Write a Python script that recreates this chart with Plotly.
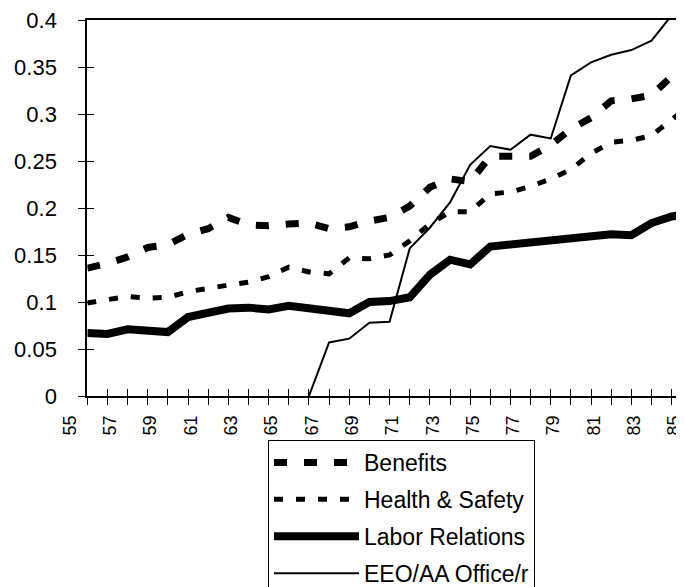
import plotly.graph_objects as go

years = list(range(55, 86))
label_years = list(range(55, 86, 2))
label_text = [str(y) for y in label_years]

benefits = [0.136, 0.141, 0.148, 0.158, 0.161, 0.172, 0.178, 0.190, 0.182, 0.181,
            0.183, 0.184, 0.178, 0.180, 0.186, 0.190, 0.202, 0.222, 0.231, 0.228,
            0.255, 0.255, 0.255, 0.267, 0.284, 0.296, 0.314, 0.316, 0.320, 0.340, 0.345]
health_safety = [0.099, 0.103, 0.106, 0.104, 0.105, 0.111, 0.115, 0.118, 0.121, 0.127,
                 0.137, 0.132, 0.130, 0.147, 0.146, 0.150, 0.165, 0.183, 0.196, 0.196,
                 0.215, 0.217, 0.223, 0.231, 0.241, 0.258, 0.270, 0.272, 0.277, 0.294, 0.311]
labor_relations = [0.067, 0.066, 0.071, 0.0695, 0.068, 0.084, 0.088, 0.093, 0.094, 0.092,
                   0.096, 0.093, 0.090, 0.088, 0.100, 0.101, 0.105, 0.129, 0.145, 0.140,
                   0.159, 0.161, 0.163, 0.167, 0.167, 0.169, 0.172, 0.171, 0.184, 0.191, 0.194]
eeo_aa = [None, None, None, None, None, None, None, None, None, None,
          None, 0.0, 0.057, 0.061, 0.078, 0.079, 0.157, 0.179, 0.206, 0.246,
          0.266, 0.262, 0.278, 0.274, 0.341, 0.355, 0.363, 0.368, 0.378, 0.405, 0.420]

FONT = "Liberation Sans, Arial, Helvetica, sans-serif"

fig = go.Figure()
fig.add_trace(go.Scatter(x=years, y=benefits, name="Benefits", mode="lines",
                         legendgroup="a", xaxis="x", yaxis="y",
                         line=dict(color="black", width=7, dash="13px,17px")))
fig.add_trace(go.Scatter(x=years, y=health_safety, name="Health & Safety", mode="lines",
                         legendgroup="b", xaxis="x3", yaxis="y",
                         line=dict(color="black", width=5, dash="9px,13px")))
fig.add_trace(go.Scatter(x=years, y=labor_relations, name="Labor Relations", mode="lines",
                         legendgroup="c", xaxis="x", yaxis="y2",
                         line=dict(color="black", width=8)))
fig.add_trace(go.Scatter(x=years, y=eeo_aa, name="EEO/AA Office/r", mode="lines",
                         legendgroup="d", xaxis="x", yaxis="y",
                         line=dict(color="black", width=2)))
# carrier for the year-label axis (draws nothing itself)
fig.add_trace(go.Scatter(x=label_years, y=[None] * len(label_years), xaxis="x2", yaxis="y",
                         mode="lines", showlegend=False, hoverinfo="skip"))

# the page body has an 8px margin; figure coordinates = page coordinates - 8
W, H = 676, 579
ML = 52
axis_px = 79.3
px_per_year = 20.15
x_end = 55 + (W - axis_px) / px_per_year
dom0 = (axis_px - ML) / (W - ML)

lab_first = 62.0
lab_step = 20.15
lab_range = [55 + (ML - lab_first) / lab_step, 55 + (W - lab_first) / lab_step]

PLOT_TOP, PLOT_BOT = 12, 388

fig.update_layout(
    width=W, height=H,
    margin=dict(l=ML, r=0, t=PLOT_TOP, b=H - PLOT_BOT, autoexpand=False),
    paper_bgcolor="white", plot_bgcolor="rgba(0,0,0,0)",
    font=dict(family=FONT, color="black"),
    showlegend=True,
    legend=dict(x=(260 - ML) / (W - ML), y=(PLOT_BOT - 432) / (PLOT_BOT - PLOT_TOP),
                xanchor="left", yanchor="top",
                bordercolor="black", borderwidth=1, bgcolor="white",
                font=dict(size=23, family=FONT, color="black"),
                itemwidth=85, tracegroupgap=4, traceorder="grouped"),
    xaxis=dict(range=[55, x_end], domain=[dom0, 1], anchor="y",
               tickmode="linear", tick0=55, dtick=1,
               ticks="outside", ticklen=7, tickwidth=1, tickcolor="black",
               showticklabels=False, showline=True, linecolor="black", linewidth=2,
               mirror=True, showgrid=False, zeroline=False),
    xaxis3=dict(range=[55, x_end], overlaying="x", anchor="y",
                tickmode="linear", tick0=55, dtick=1,
                ticks="inside", ticklen=7, tickwidth=1, tickcolor="black",
                showticklabels=False, showline=False, showgrid=False, zeroline=False),
    xaxis2=dict(range=lab_range, domain=[0, 1], anchor="y",
                tickmode="array", tickvals=label_years, ticktext=label_text,
                tickangle=-90, ticks="", showline=False, showgrid=False, zeroline=False,
                tickfont=dict(size=18, family=FONT, color="black"),
                ticklabelstandoff=15, ticklabeloverflow="allow"),
    yaxis=dict(range=[0, 0.4], anchor="x", tickmode="linear", tick0=0, dtick=0.05,
               ticks="outside", ticklen=7, tickwidth=1, tickcolor="black",
               showline=True, linecolor="black", linewidth=2,
               showgrid=False, zeroline=False,
               tickfont=dict(size=22, family=FONT, color="black"),
               ticklabelstandoff=17, ticklabeloverflow="allow"),
    yaxis2=dict(range=[0, 0.4], overlaying="y", anchor="x", side="left",
                tickmode="linear", tick0=0, dtick=0.05,
                ticks="inside", ticklen=7, tickwidth=1, tickcolor="black",
                showticklabels=False, showline=False, showgrid=False, zeroline=False),
)

fig.write_html("out.html")
